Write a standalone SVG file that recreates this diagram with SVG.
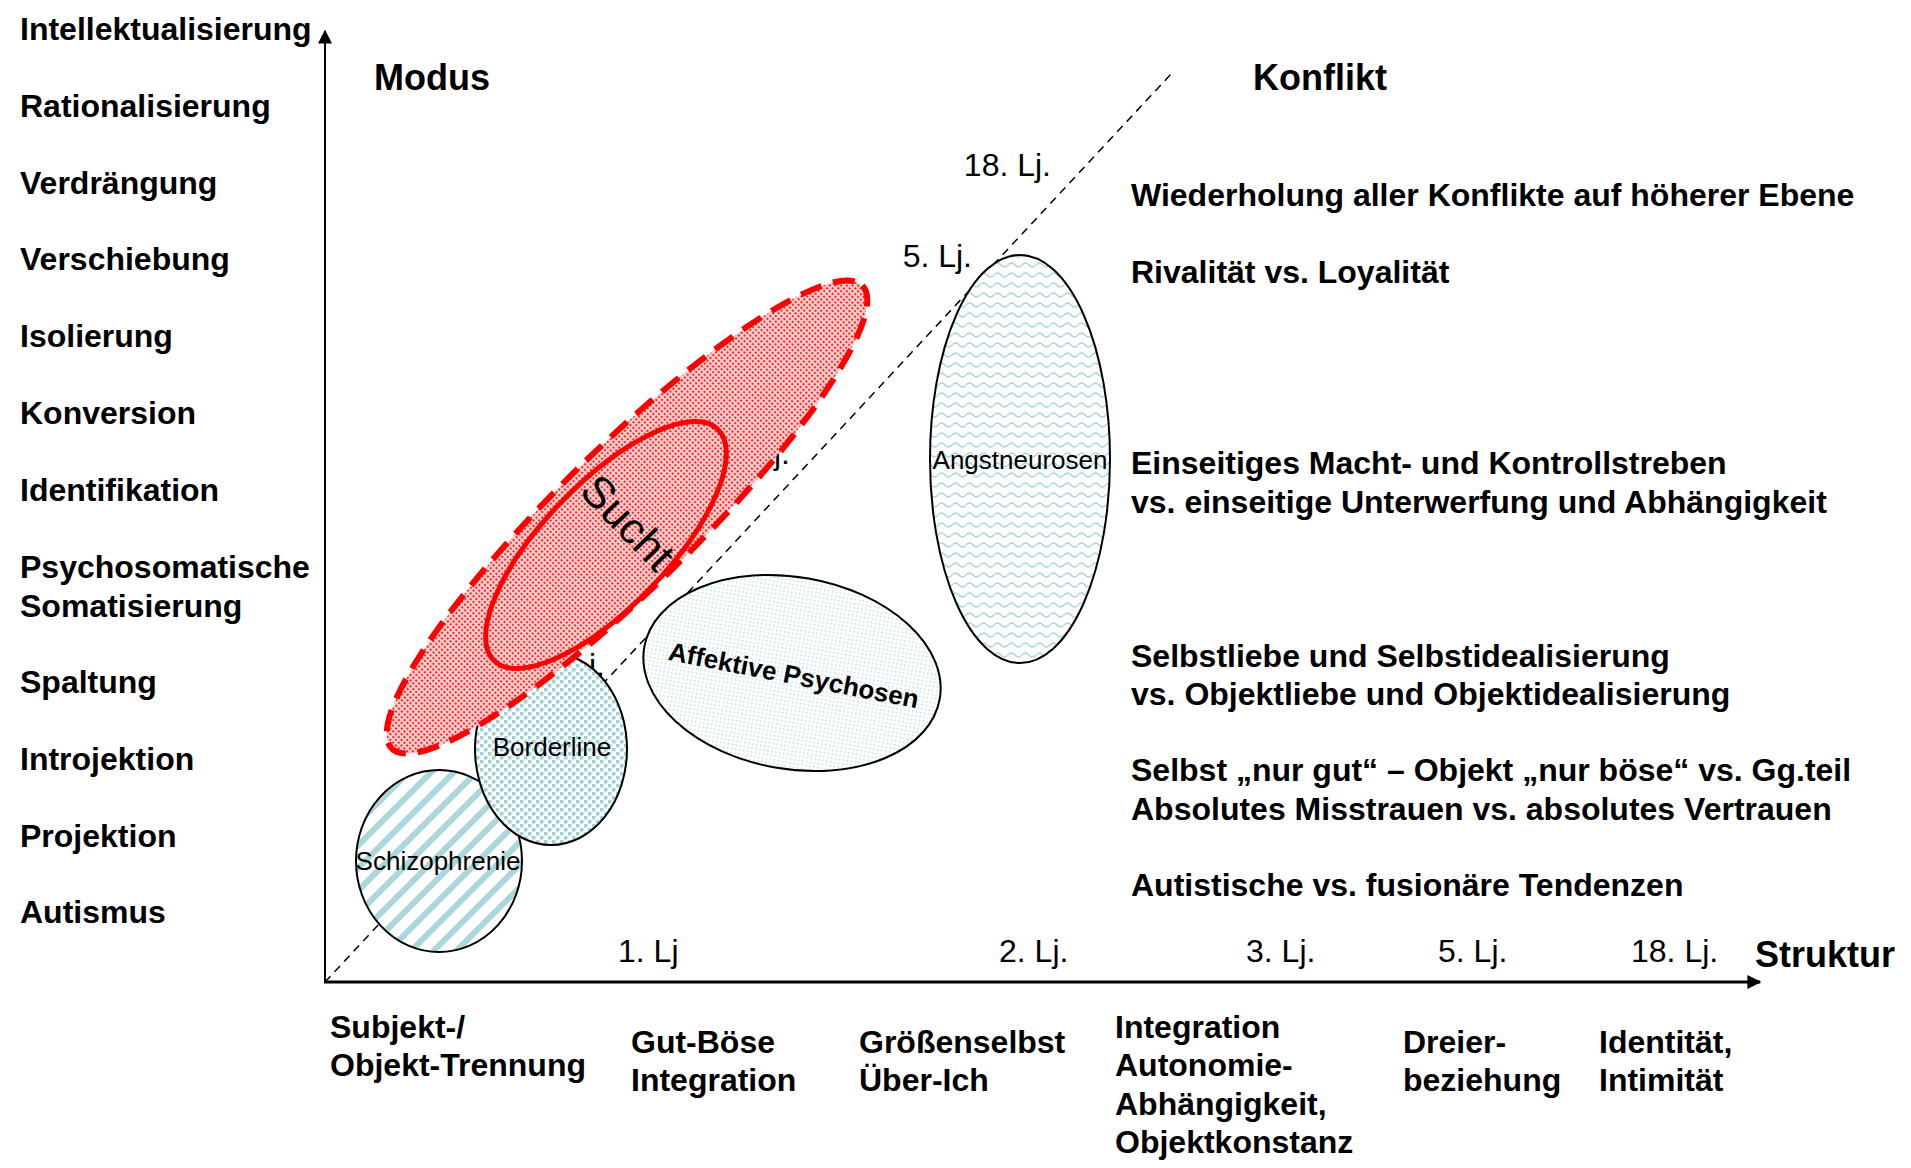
<svg xmlns="http://www.w3.org/2000/svg" width="1911" height="1168" viewBox="0 0 1911 1168">
<style>
.lb{font-family:"Liberation Sans",Arial,sans-serif;font-weight:bold;font-size:32px;fill:#000}
.hd{font-family:"Liberation Sans",Arial,sans-serif;font-weight:bold;font-size:36px;fill:#000}
.nm{font-family:"Liberation Sans",Arial,sans-serif;font-size:32px;fill:#000}
.el{font-family:"Liberation Sans",Arial,sans-serif;font-size:26px;fill:#000}
.elb{font-family:"Liberation Sans",Arial,sans-serif;font-weight:bold;font-size:26px;fill:#000}
.ax{stroke:#000;fill:none}
.node{stroke:#000;stroke-width:2}
</style>
<defs>
<pattern id="pRed" width="4" height="4" patternUnits="userSpaceOnUse">
<rect width="4" height="4" fill="#fbd6d6"/>
<circle cx="2" cy="2" r="1.2" fill="#f22"/>
</pattern>
<pattern id="pStripe" width="16" height="16" patternUnits="userSpaceOnUse" patternTransform="rotate(45)">
<rect width="16" height="16" fill="#fff"/>
<rect width="6" height="16" fill="#a9d7db"/>
</pattern>
<pattern id="pBig" width="8" height="8" patternUnits="userSpaceOnUse">
<rect width="8" height="8" fill="#fff"/>
<rect x="0" y="0" width="3.5" height="3.5" fill="#9fd2d7"/>
<rect x="4" y="4" width="3.5" height="3.5" fill="#9fd2d7"/>
</pattern>
<pattern id="pFine" width="4" height="4" patternUnits="userSpaceOnUse">
<rect width="4" height="4" fill="#fff"/>
<rect x="1" y="1" width="1.5" height="1.5" fill="#b5dde1"/>
</pattern>
<pattern id="pWave" width="14" height="10" patternUnits="userSpaceOnUse">
<rect width="14" height="10" fill="#fff"/>
<path d="M0 5 Q3.5 1 7 5 T14 5" fill="none" stroke="#a9d7db" stroke-width="1.4"/>
</pattern>
<marker id="ah" viewBox="0 0 10 10" refX="9" refY="5" markerWidth="14" markerHeight="14" markerUnits="userSpaceOnUse" orient="auto">
<path d="M0 0 L10 5 L0 10 Z" fill="#000"/>
</marker>
</defs>
<rect width="1911" height="1168" fill="#fff"/>

<g id="connectors">
<line class="ax" x1="325" y1="983" x2="325" y2="31" stroke-width="2" marker-end="url(#ah)"/>
<line class="ax" x1="324" y1="982" x2="1760" y2="982" stroke-width="3" marker-end="url(#ah)"/>
<line class="ax" x1="325" y1="982" x2="1172" y2="73" stroke-width="1.5" stroke-dasharray="8 6"/>
</g>

<g id="diag-labels">
<text class="nm" x="1051" y="176" text-anchor="end">18. Lj.</text>
<text class="nm" x="972" y="267" text-anchor="end">5. Lj.</text>
<text class="nm" x="790" y="464" text-anchor="end">3. Lj.</text>
<text class="nm" x="605" y="676" text-anchor="end">2. Lj.</text>
</g>

<g id="node-angstneurosen">
<ellipse class="node" cx="1020" cy="459" rx="90" ry="204" fill="url(#pWave)"/>
<text class="el" x="1020" y="469" text-anchor="middle">Angstneurosen</text>
</g>

<g id="node-affektive">
<ellipse class="node" cx="792" cy="673" rx="150" ry="96" transform="rotate(10 792 673)" fill="url(#pFine)"/>
<text class="elb" x="0" y="0" text-anchor="middle" transform="translate(792 684) rotate(11)">Affektive Psychosen</text>
</g>

<g id="node-schizophrenie">
<ellipse class="node" cx="439" cy="861" rx="83" ry="91" fill="url(#pStripe)"/>
<text class="el" x="438" y="870" text-anchor="middle">Schizophrenie</text>
</g>

<g id="node-borderline">
<ellipse class="node" cx="551" cy="749" rx="76" ry="96" fill="url(#pBig)"/>
<text class="el" x="552" y="756" text-anchor="middle">Borderline</text>
</g>

<g id="node-sucht">
<ellipse cx="627" cy="517" rx="330" ry="69" transform="rotate(-44.5 627 517)" fill="url(#pRed)" stroke="#f00" stroke-width="6" stroke-dasharray="22 12"/>
<ellipse cx="606" cy="545" rx="161" ry="62" transform="rotate(-46 606 545)" fill="none" stroke="#f00" stroke-width="5"/>
<text x="0" y="0" text-anchor="middle" transform="translate(617 533) rotate(46)" style="font-family:'Liberation Sans',Arial,sans-serif;font-size:44px;fill:#000">Sucht</text>
</g>

<g id="modus-labels">
<text class="lb" x="20" y="40">Intellektualisierung</text>
<text class="lb" x="20" y="117">Rationalisierung</text>
<text class="lb" x="20" y="194">Verdrängung</text>
<text class="lb" x="20" y="270">Verschiebung</text>
<text class="lb" x="20" y="347">Isolierung</text>
<text class="lb" x="20" y="424">Konversion</text>
<text class="lb" x="20" y="501">Identifikation</text>
<text class="lb" x="20" y="578">Psychosomatische</text>
<text class="lb" x="20" y="617">Somatisierung</text>
<text class="lb" x="20" y="693">Spaltung</text>
<text class="lb" x="20" y="770">Introjektion</text>
<text class="lb" x="20" y="847">Projektion</text>
<text class="lb" x="20" y="923">Autismus</text>
</g>

<g id="headings">
<text class="hd" x="374" y="90">Modus</text>
<text class="hd" x="1253" y="90">Konflikt</text>
<text class="hd" x="1755" y="967">Struktur</text>
</g>

<g id="konflikt-labels">
<text class="lb" x="1131" y="206">Wiederholung aller Konflikte auf höherer Ebene</text>
<text class="lb" x="1131" y="283">Rivalität vs. Loyalität</text>
<text class="lb" x="1131" y="474">Einseitiges Macht- und Kontrollstreben</text>
<text class="lb" x="1131" y="513">vs. einseitige Unterwerfung und Abhängigkeit</text>
<text class="lb" x="1131" y="667">Selbstliebe und Selbstidealisierung</text>
<text class="lb" x="1131" y="705">vs. Objektliebe und Objektidealisierung</text>
<text class="lb" x="1131" y="781">Selbst „nur gut“ – Objekt „nur böse“ vs. Gg.teil</text>
<text class="lb" x="1131" y="820">Absolutes Misstrauen vs. absolutes Vertrauen</text>
<text class="lb" x="1131" y="896">Autistische vs. fusionäre Tendenzen</text>
</g>

<g id="axis-ticks">
<text class="nm" x="618" y="962">1. Lj</text>
<text class="nm" x="999" y="962">2. Lj.</text>
<text class="nm" x="1246" y="962">3. Lj.</text>
<text class="nm" x="1438" y="962">5. Lj.</text>
<text class="nm" x="1631" y="962">18. Lj.</text>
</g>

<g id="struktur-labels">
<text class="lb" x="330" y="1038">Subjekt-/</text>
<text class="lb" x="330" y="1076">Objekt-Trennung</text>
<text class="lb" x="631" y="1053">Gut-Böse</text>
<text class="lb" x="631" y="1091">Integration</text>
<text class="lb" x="859" y="1053">Größenselbst</text>
<text class="lb" x="859" y="1091">Über-Ich</text>
<text class="lb" x="1115" y="1038">Integration</text>
<text class="lb" x="1115" y="1076">Autonomie-</text>
<text class="lb" x="1115" y="1115">Abhängigkeit,</text>
<text class="lb" x="1115" y="1153">Objektkonstanz</text>
<text class="lb" x="1403" y="1053">Dreier-</text>
<text class="lb" x="1403" y="1091">beziehung</text>
<text class="lb" x="1599" y="1053">Identität,</text>
<text class="lb" x="1599" y="1091">Intimität</text>
</g>
</svg>
